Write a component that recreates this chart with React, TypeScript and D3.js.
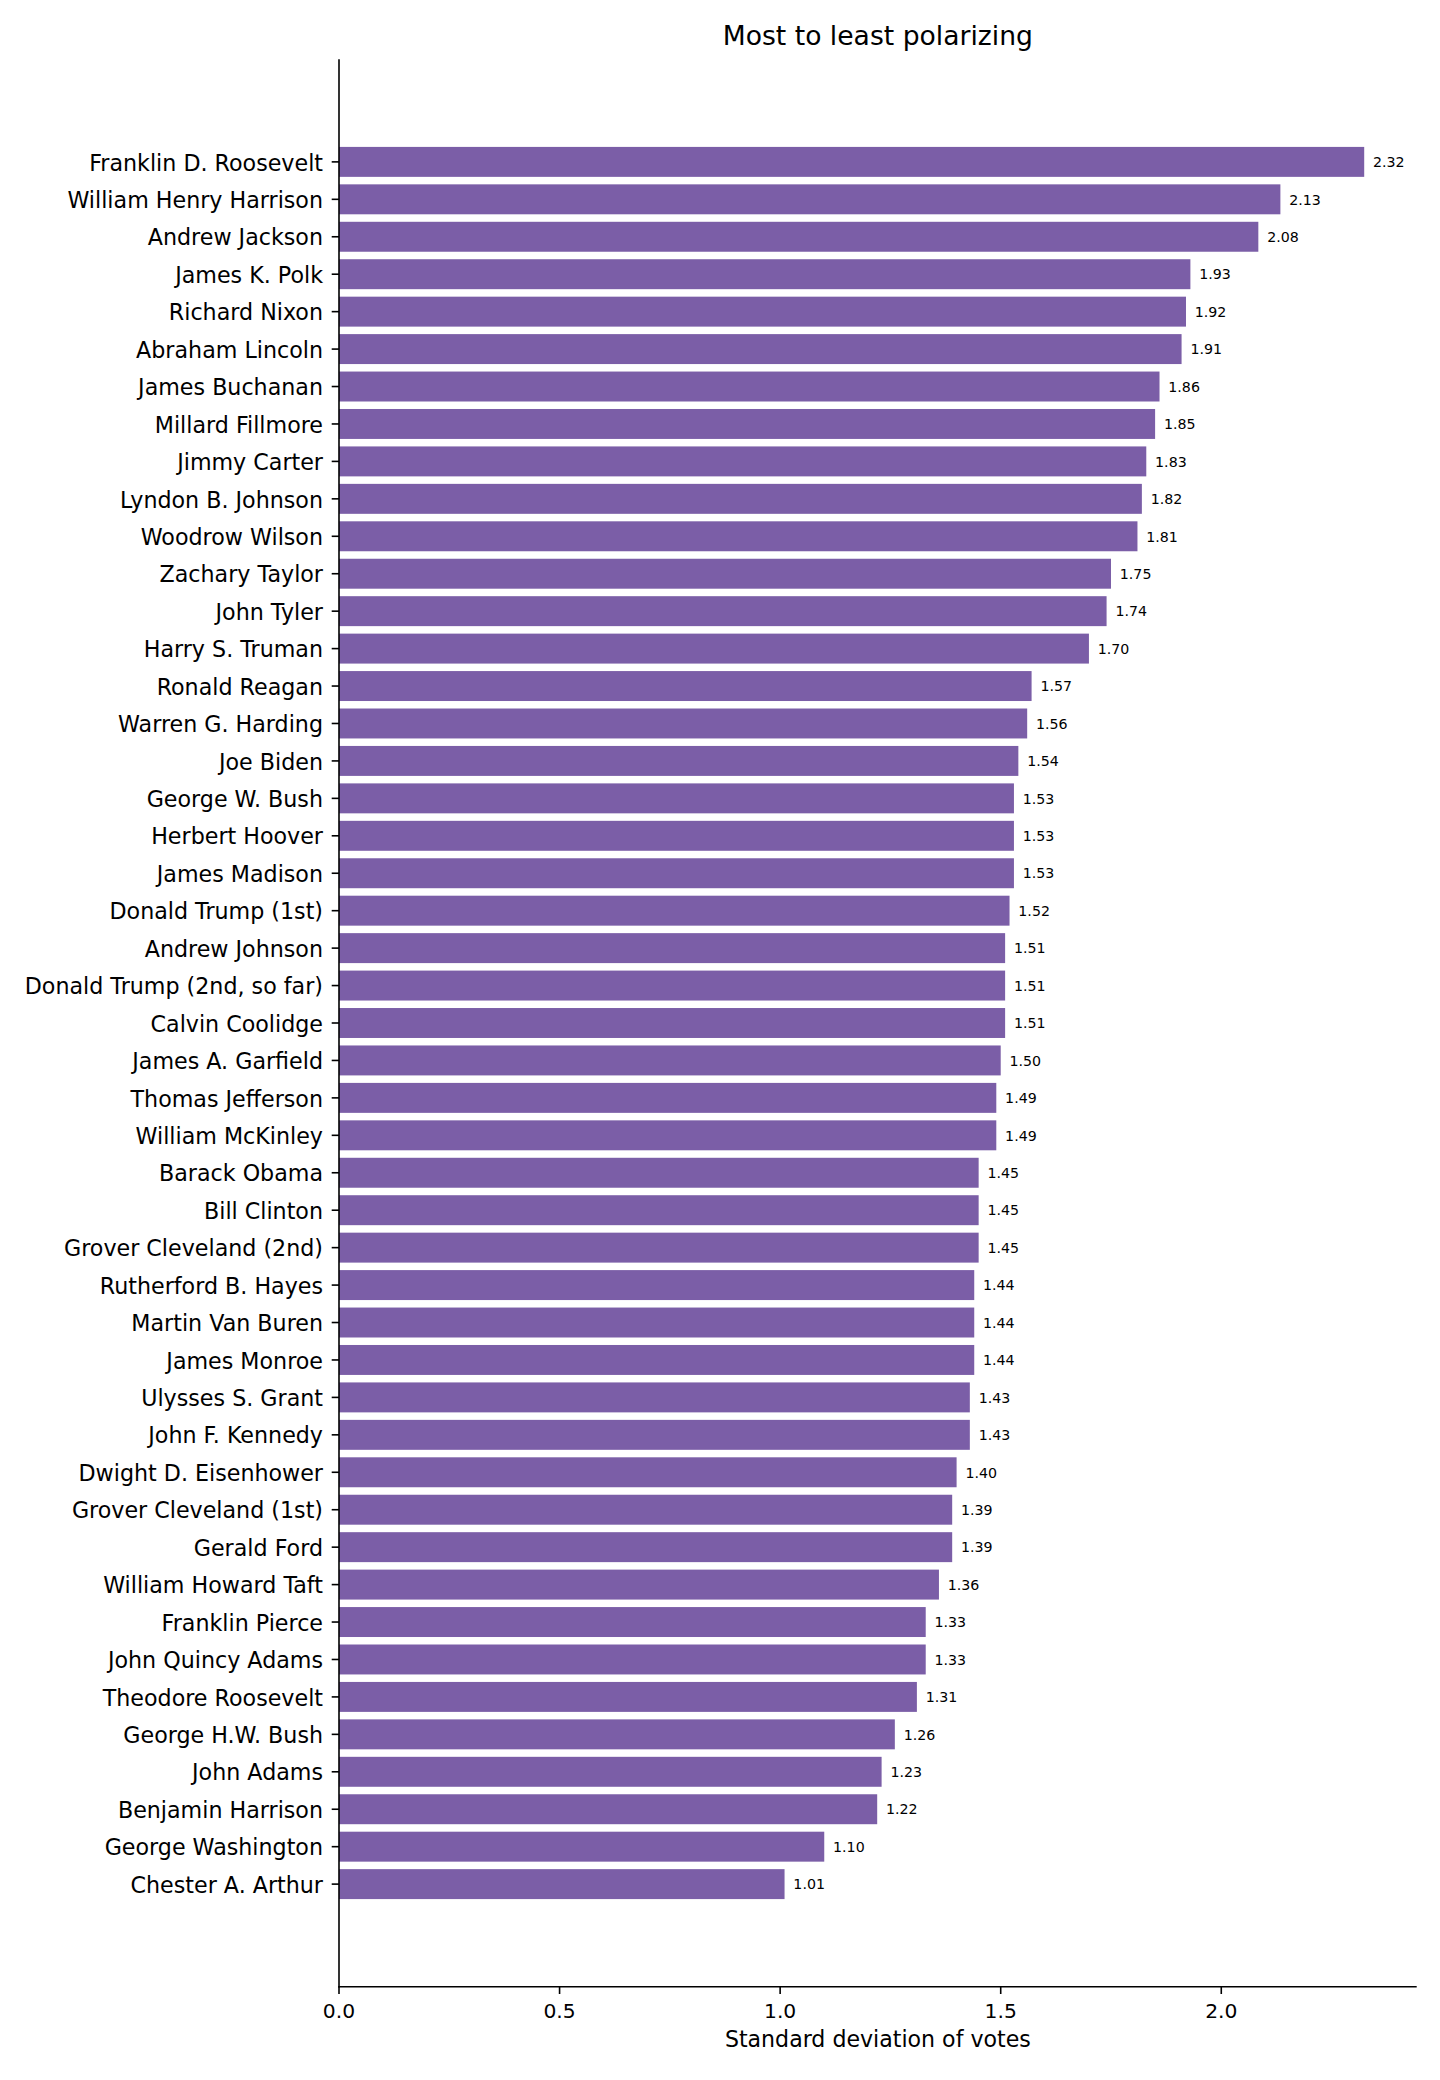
import React from "react";
import * as d3 from "d3";

const presidents: string[] = [
  "Franklin D. Roosevelt", "William Henry Harrison", "Andrew Jackson", "James K. Polk",
  "Richard Nixon", "Abraham Lincoln", "James Buchanan", "Millard Fillmore", "Jimmy Carter",
  "Lyndon B. Johnson", "Woodrow Wilson", "Zachary Taylor", "John Tyler", "Harry S. Truman",
  "Ronald Reagan", "Warren G. Harding", "Joe Biden", "George W. Bush", "Herbert Hoover",
  "James Madison", "Donald Trump (1st)", "Andrew Johnson", "Donald Trump (2nd, so far)",
  "Calvin Coolidge", "James A. Garfield", "Thomas Jefferson", "William McKinley",
  "Barack Obama", "Bill Clinton", "Grover Cleveland (2nd)", "Rutherford B. Hayes",
  "Martin Van Buren", "James Monroe", "Ulysses S. Grant", "John F. Kennedy",
  "Dwight D. Eisenhower", "Grover Cleveland (1st)", "Gerald Ford", "William Howard Taft",
  "Franklin Pierce", "John Quincy Adams", "Theodore Roosevelt", "George H.W. Bush",
  "John Adams", "Benjamin Harrison", "George Washington", "Chester A. Arthur",
];

const stdDev: number[] = [
  2.324, 2.134, 2.084, 1.93, 1.92, 1.91, 1.86, 1.85, 1.83, 1.82, 1.81, 1.75, 1.74, 1.70,
  1.57, 1.56, 1.54, 1.53, 1.53, 1.53, 1.52, 1.51, 1.51, 1.51, 1.50, 1.49, 1.49,
  1.45, 1.45, 1.45, 1.44, 1.44, 1.44, 1.43, 1.43, 1.40, 1.39, 1.39, 1.36, 1.33, 1.33,
  1.31, 1.26, 1.23, 1.22, 1.10, 1.01,
];

const xTicks: number[] = [0.0, 0.5, 1.0, 1.5, 2.0];
const xLimits: number[] = [0, 2.443];

const TITLE = "Most to least polarizing";
const XLABEL = "Standard deviation of votes";

const W = 1440;
const H = 2080;
const LEFT = 339;
const RIGHT = 1416.7;
const TOP = 59.3;
const BOTTOM = 1986.7;
const BAR_COLOR = "#7b5ea7";
const FONT = "'DejaVu Sans', Verdana, sans-serif";

export default function App() {
  const n = presidents.length;
  const x = d3.scaleLinear().domain(xLimits).range([LEFT, RIGHT]);
  const span = n - 1 + 0.8;
  const margin = 0.05 * span;
  const y = d3
    .scaleLinear()
    .domain([-0.4 - margin, n - 1 + 0.4 + margin])
    .range([TOP, BOTTOM]);
  const barH = y(0.8) - y(0);

  return (
    <svg
      width={W}
      height={H}
      viewBox={`0 0 ${W} ${H}`}
      style={{ position: "absolute", left: 0, top: 0, background: "#fff" }}
      fontFamily={FONT}
    >
      <rect x={0} y={0} width={W} height={H} fill="#fff" />
      {/* bars */}
      {stdDev.map((v, i) => (
        <rect
          key={"b" + i}
          x={x(0)}
          y={y(i) - barH / 2}
          width={x(v) - x(0)}
          height={barH}
          fill={BAR_COLOR}
        />
      ))}
      {/* value labels */}
      {stdDev.map((v, i) => (
        <text
          key={"v" + i}
          x={x(v + 0.02)}
          y={y(i)}
          dy="0.37em"
          fontSize={14.2}
          fill="#000"
        >
          {v.toFixed(2)}
        </text>
      ))}
      {/* y ticks & labels */}
      {presidents.map((p, i) => (
        <g key={"y" + i}>
          <line x1={LEFT - 7.3} x2={LEFT} y1={y(i)} y2={y(i)} stroke="#000" strokeWidth={1.6} />
          <text x={LEFT - 16} y={y(i)} dy="0.39em" fontSize={22.2} textAnchor="end" fill="#000">
            {p}
          </text>
        </g>
      ))}
      {/* x ticks & labels */}
      {xTicks.map((t) => (
        <g key={"x" + t}>
          <line x1={x(t)} x2={x(t)} y1={BOTTOM} y2={BOTTOM + 7.3} stroke="#000" strokeWidth={1.6} />
          <text x={x(t)} y={2018.3} fontSize={20.3} textAnchor="middle" fill="#000">
            {d3.format(".1f")(t)}
          </text>
        </g>
      ))}
      {/* spines */}
      <line x1={LEFT} x2={LEFT} y1={TOP} y2={BOTTOM + 0.8} stroke="#000" strokeWidth={1.6} />
      <line x1={LEFT - 0.8} x2={RIGHT} y1={BOTTOM} y2={BOTTOM} stroke="#000" strokeWidth={1.6} />
      {/* axis label */}
      <text x={(LEFT + RIGHT) / 2} y={2047.3} fontSize={22.1} textAnchor="middle" fill="#000">
        {XLABEL}
      </text>
      {/* title */}
      <text x={(LEFT + RIGHT) / 2} y={45.3} fontSize={26.6} textAnchor="middle" fill="#000">
        {TITLE}
      </text>
    </svg>
  );
}
